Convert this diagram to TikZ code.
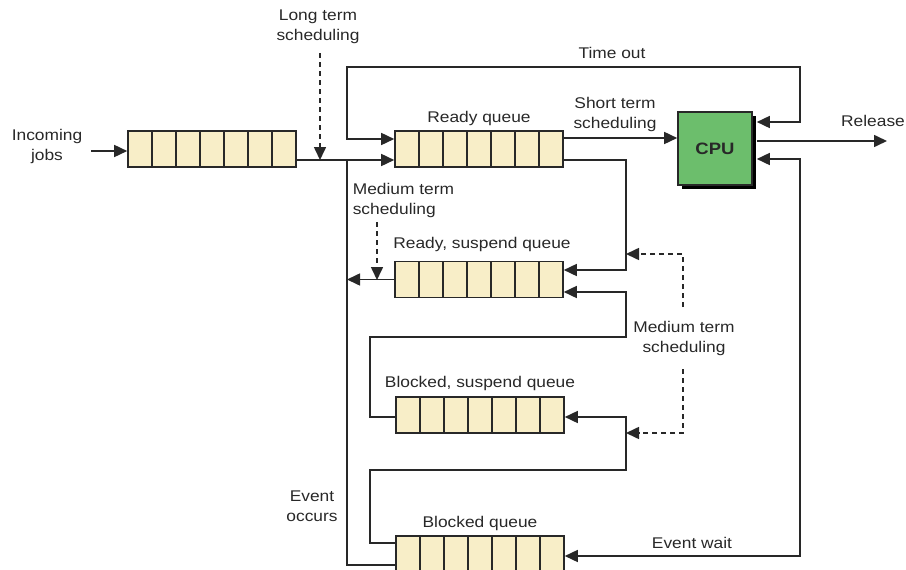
\documentclass[tikz,border=0pt]{standalone}
\usepackage{fontspec}
\setmainfont{Liberation Sans}[FakeStretch=1.12]
\usetikzlibrary{arrows.meta,calc,shadows}
\definecolor{qfill}{RGB}{248,238,200}
\definecolor{cpugreen}{RGB}{108,190,108}
\definecolor{ink}{RGB}{40,40,40}
\begin{document}
\begin{tikzpicture}[x=1pt,y=-1pt,color=ink,line width=1.6pt,
  every node/.style={font=\fontsize{15.5}{20}\selectfont},
  qbox/.style={draw, fill=qfill, minimum width=168pt, minimum height=36pt, inner sep=0pt,
    path picture={\foreach \i in {1,...,6}{\draw[line width=1.6pt] ($(path picture bounding box.south west)!\i/7!(path picture bounding box.south east)$) -- ($(path picture bounding box.north west)!\i/7!(path picture bounding box.north east)$);}}},
  cpubox/.style={draw, fill=cpugreen, minimum width=74pt, minimum height=73pt, inner sep=0pt,
    font=\bfseries\fontsize{16.5}{19}\selectfont,
    drop shadow={shadow xshift=4pt, shadow yshift=-4pt, fill=black, opacity=1}},
  arr/.style={-{Triangle[length=13pt,width=12pt]}},
  arrboth/.style={{Triangle[length=13pt,width=12pt]}-{Triangle[length=13pt,width=12pt]}},
  dsh/.style={dash pattern=on 5pt off 4pt},
  txt/.style={align=center, inner sep=0pt}]
\useasboundingbox (0,0) rectangle (906,570);
% queues and CPU
\node[qbox] (inq) at (212,149) {};
\node[qbox] (rq) at (479,149) {};
\node[qbox] (rsq) at (479,279.5) {};
\node[qbox] (bsq) at (480,415) {};
\node[qbox] (bq) at (480,554) {};
\node[cpubox] (cpu) at (715,148.5) {CPU};
% labels
\node[txt] (linc) at (47,146) {Incoming\\jobs};
\node[txt] (llt) at (318,27) {Long term\\scheduling};
\node[txt] (lto) at (612,53) {Time out};
\node[txt] (lrq) at (479,118) {Ready queue};
\node[txt] (lst) at (615,114) {Short term\\scheduling};
\node[txt] (lrel) at (873,121) {Release};
\node[txt,align=left,anchor=west] (lmt1) at (352,200) {Medium term\\scheduling};
\node[txt] (lrsq) at (482,244) {Ready, suspend queue};
\node[txt] (lmt2) at (684,338) {Medium term\\scheduling};
\node[txt] (lbsq) at (480,383) {Blocked, suspend queue};
\node[txt] (leo) at (312,506) {Event\\occurs};
\node[txt] (lbq) at (480,523) {Blocked queue};
\node[txt] (lew) at (692,543) {Event wait};
% coordinates
\coordinate (inc) at (91,151);
\coordinate (lt) at (320,53);
\coordinate (lt2) at (320,160);
\coordinate (jn) at (347,160);
\coordinate (ms) at (377,222);
\coordinate (ms2) at (377,280);
\coordinate (toL) at (347,67);
\coordinate (toR) at (800,67);
\coordinate (cpuA) at ([xshift=4pt,yshift=26.5pt]cpu.east);
\coordinate (cpuB) at ([xshift=4pt,yshift=-10.5pt]cpu.east);
\coordinate (cpuR) at ([xshift=4pt,yshift=7.5pt]cpu.east);
\coordinate (rel) at (887,141);
\coordinate (ewc) at (800,556);
\coordinate (rr) at (626,270);
\coordinate (b1) at (370,337);
\coordinate (b2) at (626,292);
\coordinate (b3) at (370,470);
\coordinate (b4) at (626,417);
\coordinate (d1) at (683,254);
\coordinate (d2) at (683,307);
\coordinate (d3) at (683,369);
\coordinate (d4) at (683,433);
% connectors
\draw[arr] (inc) -- (inc -| inq.west);
\draw[arr] ([yshift=-11pt]inq.east) -- ([yshift=-11pt]rq.west);
\draw[arr,dsh] (lt) -- (lt2);
\draw ([yshift=-11pt]bq.west) -| (jn);
\draw[arr] (rsq.west) -- (rsq.west -| jn);
\draw[arr,dsh] (ms) -- (ms2);
\draw[arrboth] ([yshift=10pt]rq.west) -| (toL) -| (toR |- cpuA) -- (cpuA);
\draw[arr] ([yshift=11pt]rq.east) -- ([yshift=11pt]rq.east -| cpu.west);
\draw[arr] (cpuR) -- (rel);
\draw[arrboth] (cpuB) -| (ewc) -- (bq.east |- ewc);
\draw[arr] ([yshift=-11pt]rq.east) -| (rr) -- (rr -| rsq.east);
\draw[arr] ([yshift=-2pt]bsq.west) -| (b1) -| (b2) -- (b2 -| rsq.east);
\draw[arr] ([yshift=11pt]bq.west) -| (b3) -| (b4) -- (b4 -| bsq.east);
\draw[arr,dsh] (d2) -- (d1) -- (d1 -| rr);
\draw[arr,dsh] (d3) -- (d4) -- (d4 -| b4);
\end{tikzpicture}
\end{document}
